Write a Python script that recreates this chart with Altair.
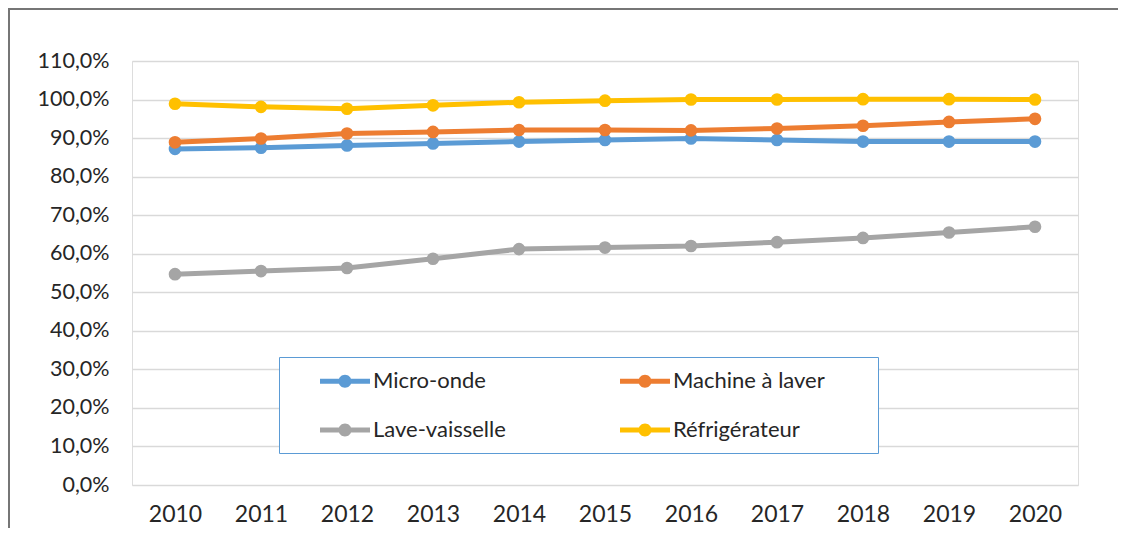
import altair as alt
import pandas as pd

years = [2010, 2011, 2012, 2013, 2014, 2015, 2016, 2017, 2018, 2019, 2020]
series = ["Micro-onde", "Machine à laver", "Lave-vaisselle", "Réfrigérateur"]
micro_onde = [87.2, 87.5, 88.1, 88.6, 89.1, 89.5, 89.9, 89.5, 89.1, 89.1, 89.1]
machine_a_laver = [88.9, 89.9, 91.2, 91.6, 92.1, 92.1, 92.0, 92.5, 93.2, 94.2, 95.0]
lave_vaisselle = [54.7, 55.5, 56.3, 58.7, 61.2, 61.6, 62.0, 63.0, 64.1, 65.5, 67.0]
refrigerateur = [98.9, 98.1, 97.6, 98.5, 99.3, 99.7, 100.0, 100.0, 100.1, 100.1, 100.0]
colors = ["#5B9BD5", "#ED7D31", "#A5A5A5", "#FFC000"]
y_ticks = [0, 10, 20, 30, 40, 50, 60, 70, 80, 90, 100, 110]

values = [micro_onde, machine_a_laver, lave_vaisselle, refrigerateur]
rows = []
for s, vals in zip(series, values):
    for yr, v in zip(years, vals):
        rows.append({"annee": str(yr), "serie": s, "valeur": v})
df = pd.DataFrame(rows)

W, H = 946, 424
FONT = "Lato"

x_enc = alt.X("annee:O", scale=alt.Scale(type="point", padding=0.5),
              axis=alt.Axis(title=None, labelAngle=0, labelFontSize=23, labelPadding=18,
                            ticks=False, domain=False, grid=False, labelColor="#262626",
                            labelFont=FONT))
y_enc = alt.Y("valeur:Q", scale=alt.Scale(domain=[0, 110], nice=False),
              axis=alt.Axis(title=None, values=y_ticks, ticks=False, domain=False,
                            labelFontSize=21.5, labelPadding=23, labelColor="#262626",
                            labelFont=FONT, gridColor="#D9D9D9", gridWidth=1.4,
                            labelExpr="replace(format(datum.value / 100, '.1%'), '.', ',')"))
color_scale = alt.Scale(domain=series, range=colors)

# legend key: a thick line with a dot; the trailing move-to widens the entry box
sym_path = ("M-2,-0.2 L2,-0.2 L2,0.2 L-2,0.2 Z "
            "M-0.52,0 A0.52,0.52 0 1,1 0.52,0 A0.52,0.52 0 1,1 -0.52,0 Z "
            "M17.7,0 L17.7,0")

legend = alt.Legend(title=None, orient="none", legendX=147, legendY=296,
                    columns=2, direction="horizontal", gridAlign="all",
                    symbolType=sym_path, symbolSize=625, symbolOffset=42,
                    symbolStrokeWidth=0, labelFontSize=22, labelFont=FONT,
                    labelColor="#262626", labelOffset=15.5,
                    rowPadding=25, columnPadding=24, padding=11.5,
                    strokeColor="#5B9BD5", fillColor="white", labelLimit=500)

lines = alt.Chart(df).mark_line(strokeWidth=5).encode(
    x=x_enc, y=y_enc,
    color=alt.Color("serie:N", scale=color_scale, legend=legend),
)
points = alt.Chart(df).mark_circle(size=160, opacity=1).encode(
    x=x_enc, y=y_enc,
    color=alt.Color("serie:N", scale=color_scale, legend=legend),
)

# outer chart border (left and top edges), drawn as thin filled bands
frame_top = alt.Chart(df).mark_rect(fill="#767676", strokeWidth=0).encode(
    x=alt.value(-124), x2=alt.value(1000), y=alt.value(-53), y2=alt.value(-51))
frame_left = alt.Chart(df).mark_rect(fill="#767676", strokeWidth=0).encode(
    x=alt.value(-124), x2=alt.value(-122.5), y=alt.value(-53), y2=alt.value(520))

chart = alt.layer(frame_top, frame_left, lines, points).properties(
    width=W, height=H,
    autosize=alt.AutoSizeParams(type="none"),
    padding={"left": 124, "top": 53, "right": 40, "bottom": 43},
).configure_view(stroke=None).configure(font=FONT)

chart.save("out.html", embed_options={"renderer": "svg", "actions": False})
